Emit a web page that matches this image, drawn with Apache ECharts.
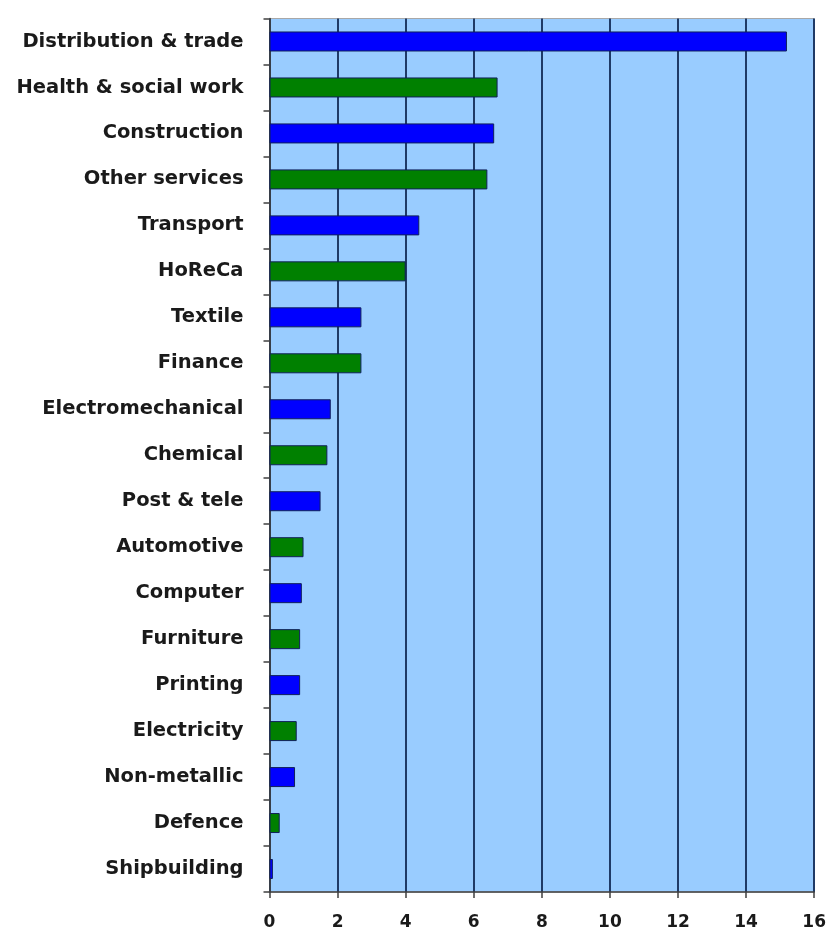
<!DOCTYPE html>
<html>
<head>
<meta charset="utf-8">
<script src="https://cdn.jsdelivr.net/npm/echarts@6/dist/echarts.min.js"></script>
<style>
html,body{margin:0;padding:0;background:#fff;}
#chart{width:829px;height:931px;}
</style>
</head>
<body>
<div id="chart"></div>
<script>
var categories = ["Distribution & trade","Health & social work","Construction","Other services","Transport","HoReCa","Textile","Finance","Electromechanical","Chemical","Post & tele","Automotive","Computer","Furniture","Printing","Electricity","Non-metallic","Defence","Shipbuilding"];
var values = [15.2, 6.7, 6.6, 6.4, 4.4, 4.0, 2.7, 2.7, 1.8, 1.7, 1.5, 1.0, 0.95, 0.9, 0.9, 0.8, 0.75, 0.3, 0.1];
var groups = ["blue","green","blue","green","blue","green","blue","green","blue","green","blue","green","blue","green","blue","green","blue","green","blue"];
var xTicks = [0, 2, 4, 6, 8, 10, 12, 14, 16];

var colorMap = {blue: "#0000ff", green: "#008000"};
var chart = echarts.init(document.getElementById('chart'));
chart.setOption({
  animation: false,
  grid: {
    left: 269.5, right: 12.3, top: 18.5, bottom: 38.3,
    show: true, backgroundColor: '#99ccff', borderColor: '#a8a8a8', borderWidth: 1
  },
  xAxis: {
    type: 'value', min: xTicks[0], max: xTicks[xTicks.length - 1], interval: 2,
    axisLine: {show: true, lineStyle: {color: '#404040', width: 1.5}},
    axisTick: {show: true, length: 6, lineStyle: {color: '#404040', width: 1.5}},
    splitLine: {show: true, lineStyle: {color: '#1f3a66', width: 2}},
    axisLabel: {
      margin: 22, color: '#1a1a1a', fontFamily: 'DejaVu Sans', fontWeight: 'bold', fontSize: 17
    }
  },
  yAxis: {
    type: 'category', data: categories, inverse: true,
    axisLine: {show: true, lineStyle: {color: '#404040', width: 1.5}},
    axisTick: {show: true, length: 6, lineStyle: {color: '#404040', width: 1.5}},
    splitLine: {show: false},
    axisLabel: {
      margin: 26, color: '#1a1a1a', fontFamily: 'DejaVu Sans', fontWeight: 'bold', fontSize: 19.5
    }
  },
  series: [{
    type: 'bar',
    data: values.map(function (v, i) {
      return {value: v, itemStyle: {color: colorMap[groups[i]]}};
    }),
    barWidth: 20,
    itemStyle: {borderColor: '#10205a', borderWidth: 1}
  }]
});
</script>
</body>
</html>
